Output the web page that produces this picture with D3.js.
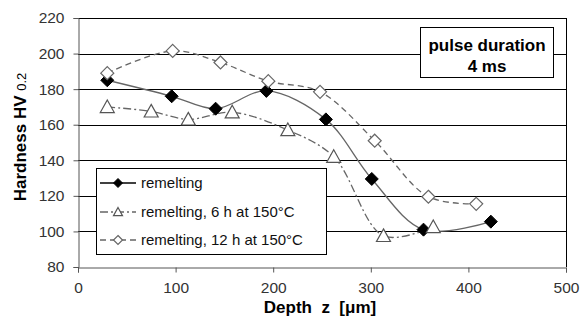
<!DOCTYPE html>
<html>
<head>
<meta charset="utf-8">
<script src="https://cdn.jsdelivr.net/npm/d3@7"></script>
<style>
  html, body { margin: 0; padding: 0; background: #fff; }
  svg { display: block; font-family: "Liberation Sans", Arial, sans-serif; }
</style>
</head>
<body>
<svg id="chart" width="581" height="321"></svg>
<script>
// ---- data ----
const remeltX  = [30, 96, 141, 193, 254, 301, 354, 423];
const remeltY  = [185, 176, 169, 179, 163, 129.5, 101, 105.5];
const h6X      = [30, 75, 113, 158, 215, 262, 313, 364];
const h6Y      = [170, 167.5, 163, 167, 157, 142, 97.5, 102.5];
const h12X     = [30, 97, 146, 195, 248, 304, 359, 408];
const h12Y     = [189, 201.5, 195, 184.5, 178.5, 151, 119.5, 115.5];
const xTicks   = [0, 100, 200, 300, 400, 500];
const yTicks   = [80, 100, 120, 140, 160, 180, 200, 220];
const seriesNames = ["remelting", "remelting, 6 h at 150°C", "remelting, 12 h at 150°C"];

const svg = d3.select("#chart");
const x = d3.scaleLinear().domain([0, 500]).range([78, 566]);
const y = d3.scaleLinear().domain([80, 220]).range([267, 18]);

// gridlines
svg.append("g").selectAll("line").data(yTicks.filter(d => d > 80)).join("line")
  .attr("x1", x(0)).attr("x2", x(500))
  .attr("y1", d => Math.round(y(d)) + 0.5).attr("y2", d => Math.round(y(d)) + 0.5)
  .attr("stroke", "#000").attr("stroke-width", 1);
// right border
svg.append("line").attr("x1", x(500) + 0.5).attr("x2", x(500) + 0.5)
  .attr("y1", y(220)).attr("y2", y(80)).attr("stroke", "#000");

// axes
const yAxis = d3.axisLeft(y).tickValues(yTicks).tickSize(5).tickPadding(9);
const gy = svg.append("g").attr("transform", `translate(${x(0) + 0.5},0)`).call(yAxis);
const xAxis = d3.axisBottom(x).tickValues(xTicks).tickSize(5).tickPadding(9);
const gx = svg.append("g").attr("transform", `translate(0,${Math.round(y(80)) + 0.5})`).call(xAxis);
[gx, gy].forEach(g => {
  g.select(".domain").attr("stroke", "#555");
  g.selectAll(".tick line").attr("stroke", "#555");
  g.selectAll("text").attr("font-size", 15.5).attr("fill", "#333")
    .attr("font-family", "Liberation Sans, Arial, sans-serif");
});

// line generators
const line = d3.line().curve(d3.curveCatmullRom.alpha(0.5))
  .x(d => x(d[0])).y(d => y(d[1]));

const series = [
  { xs: remeltX, ys: remeltY, dash: null, stroke: "#666", marker: "fdiamond" },
  { xs: h6X, ys: h6Y, dash: "8,3,2,3", stroke: "#666", marker: "triangle" },
  { xs: h12X, ys: h12Y, dash: "6,4", stroke: "#666", marker: "odiamond" }
];

function drawMarker(g, type, cx, cy, s) {
  if (type === "fdiamond") {
    g.append("path").attr("d", `M${cx},${cy - s}L${cx + s},${cy}L${cx},${cy + s}L${cx - s},${cy}Z`)
      .attr("fill", "#000").attr("stroke", "#000");
  } else if (type === "odiamond") {
    g.append("path").attr("d", `M${cx},${cy - s}L${cx + s},${cy}L${cx},${cy + s}L${cx - s},${cy}Z`)
      .attr("fill", "#fff").attr("stroke", "#666").attr("stroke-width", 1.2);
  } else {
    g.append("path").attr("d", `M${cx},${cy - s}L${cx + s},${cy + s * 0.8}L${cx - s},${cy + s * 0.8}Z`)
      .attr("fill", "#fff").attr("stroke", "#555").attr("stroke-width", 1.2);
  }
}

series.forEach(s => {
  const pts = s.xs.map((v, i) => [v, s.ys[i]]);
  svg.append("path").attr("d", line(pts)).attr("fill", "none")
    .attr("stroke", s.stroke).attr("stroke-width", 1.3)
    .attr("stroke-dasharray", s.dash);
});
series.forEach(s => {
  const g = svg.append("g");
  s.xs.forEach((v, i) => drawMarker(g, s.marker, x(v), y(s.ys[i]), s.marker === "triangle" ? 7 : 6.5));
});

// legend
const lg = svg.append("g");
lg.append("rect").attr("x", 96.5).attr("y", 168.5).attr("width", 230).attr("height", 86)
  .attr("fill", "#fff").attr("stroke", "#000");
const legY = [183, 212, 240];
series.forEach((s, i) => {
  lg.append("line").attr("x1", 100).attr("x2", 136).attr("y1", legY[i]).attr("y2", legY[i])
    .attr("stroke", i === 0 ? "#000" : "#666").attr("stroke-width", 1.3).attr("stroke-dasharray", s.dash);
  drawMarker(lg, s.marker, 118, legY[i], 4.5);
  lg.append("text").attr("x", 141).attr("y", legY[i] + 5).attr("font-size", 15)
    .attr("fill", "#111").text(seriesNames[i]);
});

// pulse duration box
const pb = svg.append("g");
pb.append("rect").attr("x", 420.5).attr("y", 27.5).attr("width", 133).attr("height", 50)
  .attr("fill", "#fff").attr("stroke", "#000");
pb.append("text").attr("x", 487).attr("y", 51).attr("text-anchor", "middle")
  .attr("font-size", 17).attr("font-weight", "bold").text("pulse duration");
pb.append("text").attr("x", 487).attr("y", 72).attr("text-anchor", "middle")
  .attr("font-size", 17).attr("font-weight", "bold").text("4 ms");

// axis titles
const yt = svg.append("text").attr("transform", "translate(26,137) rotate(-90)")
  .attr("text-anchor", "middle").attr("font-size", 17).attr("font-weight", "bold");
yt.append("tspan").text("Hardness HV ");
yt.append("tspan").attr("font-size", 13).attr("font-weight", "normal").text("0.2");

svg.append("text").attr("x", 320).attr("y", 313).attr("text-anchor", "middle")
  .attr("font-size", 17).attr("font-weight", "bold").attr("xml:space", "preserve")
  .style("white-space", "pre").text("Depth  z  [μm]");
</script>
</body>
</html>
